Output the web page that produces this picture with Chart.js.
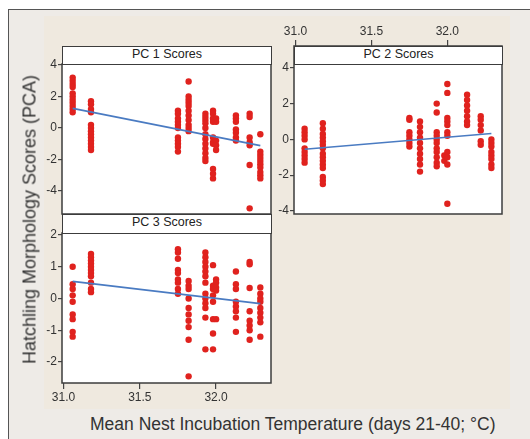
<!DOCTYPE html>
<html>
<head>
<meta charset="utf-8">
<script src="https://cdn.jsdelivr.net/npm/chart.js@4.4.0/dist/chart.umd.min.js"></script>
<style>
  body { margin: 0; background: #fff; font-family: "Liberation Sans", Arial, sans-serif; }
  #frame { position: absolute; left: 8px; top: 9px; width: 540px; height: 450px;
           border: 1.5px solid #555; background: #eeebe7; }
  #inner { position: absolute; left: 44px; top: 16px; width: 466px; height: 393px; background: #efe9df; }
  canvas { position: absolute; }
  .strip { position: absolute; background: #fff; border: 1.5px solid #3c3c3c; box-sizing: border-box;
           font-size: 12.5px; color: #222; text-align: center; line-height: 15px; }
  .title { position: absolute; color: #333; white-space: nowrap; }
</style>
</head>
<body>
<div id="frame"></div>
<div id="inner"></div>
<canvas id="c1" width="260" height="174" style="left:20px;top:50px"></canvas>
<canvas id="c3" width="260" height="190" style="left:20px;top:219px"></canvas>
<canvas id="c2" width="240" height="206" style="left:270px;top:20px"></canvas>
<div class="strip" style="left:62px;top:46px;width:210px;height:19px">PC 1 Scores</div>
<div class="strip" style="left:62px;top:214px;width:210px;height:20px">PC 3 Scores</div>
<div class="strip" style="left:294px;top:46px;width:209px;height:19px">PC 2 Scores</div>
<div class="title" style="left:-150px;top:209px;width:360px;text-align:center;font-size:18px;transform:rotate(-90deg)">Hatchling Morphology Scores (PCA)</div>
<div class="title" style="left:90px;top:414px;font-size:17.5px">Mean Nest Incubation Temperature (days 21-40; °C)</div>
<script>
// nest temperatures (x), one column of hatchlings per nest
const temps = [31.06, 31.18, 31.75, 31.82, 31.93, 31.98, 32.0, 32.13, 32.22, 32.29];
const xTicks = [31.0, 31.5, 32.0];

const pc1 = [
  [3.2, 3.0, 2.8, 2.6, 2.2, 2.0, 1.8, 1.6, 1.4, 1.2, 1.0],
  [1.7, 1.5, 1.2, 1.0, 0.2, 0, -0.2, -0.4, -0.6, -0.8, -1.0, -1.2, -1.4],
  [1.1, 0.9, 0.6, 0.4, 0.2, 0, -0.6, -0.8, -1.0, -1.2, -1.5],
  [2.95, 2.0, 1.8, 1.6, 1.4, 1.1, 0.8, 0.5, 0.2, 0, -0.2],
  [0.9, 0.7, 0.5, 0.3, 0, -0.4, -0.7, -1.0, -1.3, -1.6, -1.9, -2.1],
  [1.1, 0.9, 0.6, 0.4, -0.6, -0.9, -1.0, -2.6, -2.9, -3.2],
  [0.6, 0.4, -0.8, -1.1, -1.4],
  [0.8, 0.6, 0.4, -0.1, -0.3, -0.6, -0.8],
  [0.9, 0.7, -0.6, -0.9, -1.1, -2.35, -5.1],
  [-0.4, -1.5, -1.7, -1.9, -2.1, -2.3, -2.5, -2.8, -3.0, -3.2]
];
const pc2 = [
  [0.6, 0.4, 0.2, 0, -0.5, -0.7, -0.9, -1.1, -1.3],
  [0.9, 0.6, 0.3, 0.1, -0.1, -0.3, -0.5, -0.8, -1.0, -1.2, -1.4, -1.6, -2.1, -2.3, -2.5],
  [1.2, 1.1, 0.4, 0.2, 0, -0.2, -0.4],
  [1.0, 0.7, 0.4, 0.1, -0.2, -0.5, -0.8, -1.1, -1.4, -1.8],
  [2.0, 1.5, 0.4, 0.2, 0, -0.2, -0.5, -0.7, -1.0, -1.3, -1.5],
  [-0.9, -1.2],
  [3.1, 2.6, 1.2, 1.0, 0.8, 0.4, 0.2, -0.7, -1.0, -1.4, -3.6],
  [2.5, 2.2, 1.9, 1.6, 1.3, 1.0, 0.8],
  [1.3, 1.1, 0.8, 0.5, -0.1, -0.3],
  [0, -0.2, -0.4, -0.7, -0.9, -1.1, -1.4, -1.6]
];
const pc3 = [
  [1.0, 0.45, 0.3, 0.1, -0.1, -0.5, -0.65, -1.05, -1.2],
  [1.4, 1.3, 1.2, 1.1, 1.0, 0.9, 0.8, 0.7, 0.5, 0.3, 0.2],
  [1.55, 1.45, 1.25, 0.9, 0.8, 0.6, 0.5, 0.3, 0.15],
  [0.55, 0.4, 0.3, 0, -0.3, -0.5, -0.7, -0.9, -1.3, -2.45],
  [1.45, 1.3, 1.15, 1.0, 0.85, 0.7, 0.5, 0.15, 0, -0.15, -0.3, -0.6, -1.6],
  [1.05, 0.4, 0.3, 0.1, -0.1, -0.65, -1.1, -1.6],
  [0.6, 0.5, 0.35, 0.25, -0.65],
  [0.85, 0.45, 0.3, -0.1, -0.25, -0.4, -0.6, -1.05],
  [1.15, 1.08, 0.33, -0.4, -0.7, -0.85, -1.0, -1.3],
  [0.35, 0.15, 0, -0.1, -0.3, -0.45, -0.6, -0.75, -1.2]
];

// fitted regression lines (ends)
const fitX = [31.06, 32.29];
const fit1 = [1.25, -1.12];
const fit2 = [-0.55, 0.33];
const fit3 = [0.54, -0.16];

const yTicks1 = [4, 2, 0, -2, -4];
const yTicks2 = [4, 2, 0, -2, -4];
const yTicks3 = [2, 1, 0, -1, -2];

function toPoints(cols) {
  const pts = [];
  cols.forEach((col, i) => col.forEach(v => pts.push({ x: temps[i], y: v })));
  return pts;
}

const boxPlugin = {
  id: 'box',
  beforeDraw(chart) {
    const a = chart.chartArea, ctx = chart.ctx;
    ctx.save();
    ctx.fillStyle = '#fff';
    ctx.fillRect(a.left, a.top, a.right - a.left, a.bottom - a.top);
    ctx.restore();
  },
  afterDraw(chart) {
    const a = chart.chartArea, ctx = chart.ctx;
    ctx.save();
    ctx.strokeStyle = '#3c3c3c';
    ctx.lineWidth = 1.5;
    ctx.strokeRect(a.left, a.top, a.right - a.left, a.bottom - a.top);
    ctx.restore();
  }
};

const tickFont = { family: '"Liberation Sans", Arial, sans-serif', size: 12 };

function panel(id, cols, fit, yMin, yMax, yTicks, yWidth, xShow, xPos, padding) {
  new Chart(document.getElementById(id), {
    type: 'scatter',
    data: {
      datasets: [
        {
          type: 'line',
          data: fitX.map((x, i) => ({ x: x, y: fit[i] })),
          borderColor: '#4a7bc2',
          borderWidth: 1.7,
          pointRadius: 0
        },
        {
          data: toPoints(cols),
          backgroundColor: '#e0221e',
          borderWidth: 0,
          pointRadius: 3.2
        }
      ]
    },
    options: {
      responsive: false,
      animation: false,
      layout: { padding: padding },
      plugins: { legend: { display: false }, tooltip: { enabled: false } },
      scales: {
        x: {
          type: 'linear',
          display: xShow,
          position: xPos,
          min: 30.99,
          max: 32.36,
          afterBuildTicks: s => { s.ticks = xTicks.map(v => ({ value: v })); },
          afterFit: s => { if (xShow) s.height = 26; },
          ticks: { callback: v => v.toFixed(1), font: tickFont, color: '#333', padding: 1, maxRotation: 0, autoSkip: false },
          grid: { drawOnChartArea: false, drawTicks: true, tickLength: 6, color: '#444', lineWidth: 1.2 },
          border: { display: false }
        },
        y: {
          min: yMin,
          max: yMax,
          afterBuildTicks: s => { s.ticks = yTicks.map(v => ({ value: v })); },
          afterFit: s => { s.width = yWidth; },
          ticks: { callback: v => String(v), font: tickFont, color: '#333', padding: 1, autoSkip: false },
          grid: { drawOnChartArea: false, drawTicks: true, tickLength: 4, color: '#444', lineWidth: 1.2 },
          border: { display: false }
        }
      }
    },
    plugins: [boxPlugin]
  });
}

panel('c1', pc1, fit1, -5.46, 4.063, yTicks1, 42, false, 'bottom', { top: 14, right: 9, bottom: 10, left: 0 });
panel('c3', pc3, fit3, -2.66, 2.063, yTicks3, 42, true, 'bottom', { top: 14, right: 9, bottom: 0, left: 0 });
panel('c2', pc2, fit2, -4.17, 5.22, yTicks2, 24, true, 'top', { top: 0, right: 8, bottom: 12, left: 0 });
</script>
</body>
</html>
